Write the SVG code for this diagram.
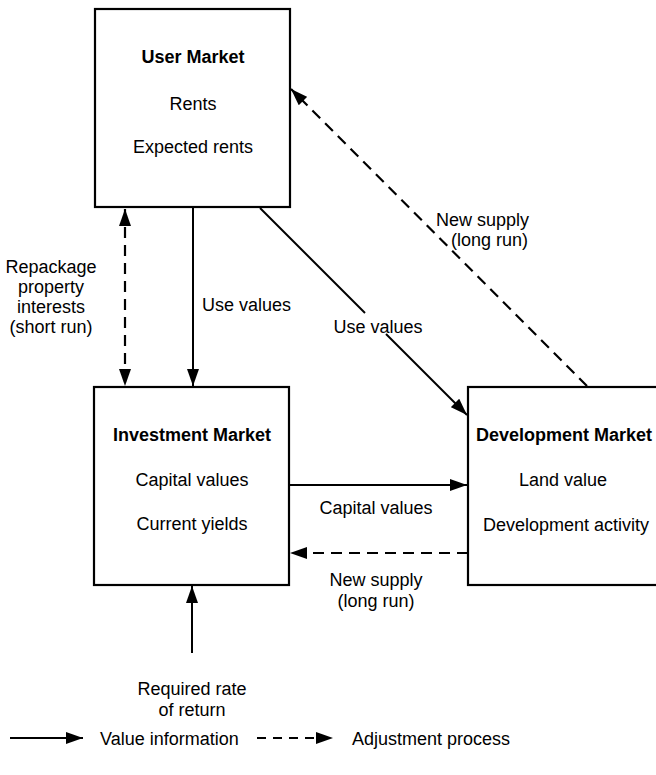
<svg xmlns="http://www.w3.org/2000/svg" width="656" height="775" viewBox="0 0 656 775">
  <style>
    .box { fill: #ffffff; stroke: #000000; stroke-width: 2.2; }
    .t { font-family: "Liberation Sans", Arial, sans-serif; font-size: 18px; fill: #000000; }
    .b { font-weight: bold; }
    .mid { text-anchor: middle; }
    .end { text-anchor: end; }
    .solid { stroke: #000000; stroke-width: 2; fill: none; }
    .dash { stroke: #000000; stroke-width: 2.2; fill: none; stroke-dasharray: 11 7; }
  </style>
  <defs>
    <marker id="head" markerUnits="userSpaceOnUse" markerWidth="18" markerHeight="12" refX="17" refY="6" orient="auto-start-reverse">
      <path d="M0,0 L17,6 L0,12 z" fill="#000000"/>
    </marker>
  </defs>
  <rect width="656" height="775" fill="#ffffff"/>

  <!-- User market -->
  <g id="user-market">
    <rect class="box" x="95" y="9" width="195" height="198"/>
    <text class="t b mid" x="193" y="63">User Market</text>
    <text class="t mid" x="193" y="110">Rents</text>
    <text class="t mid" x="193" y="153">Expected rents</text>
  </g>

  <!-- Investment market -->
  <g id="investment-market">
    <rect class="box" x="94" y="387" width="195" height="198"/>
    <text class="t b mid" x="192" y="441">Investment Market</text>
    <text class="t mid" x="192" y="486">Capital values</text>
    <text class="t mid" x="192" y="530">Current yields</text>
  </g>

  <!-- Development market (runs past the right edge) -->
  <g id="development-market">
    <rect class="box" x="468" y="387" width="220" height="198"/>
    <text class="t b" x="476" y="441">Development Market</text>
    <text class="t mid" x="563" y="486">Land value</text>
    <text class="t mid" x="566" y="531">Development activity</text>
  </g>

  <!-- Connectors -->
  <g id="connectors">
    <!-- user -> investment: use values -->
    <line class="solid" x1="193" y1="207" x2="193" y2="386" marker-end="url(#head)"/>
    <!-- repackage property interests, both ways -->
    <line class="dash" x1="125" y1="209" x2="125" y2="386" marker-start="url(#head)" marker-end="url(#head)"/>
    <!-- user -> development: use values (broken for label) -->
    <path class="solid" d="M260,208 L365,313"/>
    <path class="solid" d="M386,334 L467,415" marker-end="url(#head)"/>
    <!-- development -> user: new supply -->
    <line class="dash" x1="587" y1="386" x2="291" y2="89" marker-end="url(#head)"/>
    <!-- investment -> development: capital values -->
    <line class="solid" x1="289" y1="485" x2="467" y2="485" marker-end="url(#head)"/>
    <!-- development -> investment: new supply -->
    <line class="dash" x1="468" y1="553" x2="290" y2="553" marker-end="url(#head)"/>
    <!-- required rate of return -> investment -->
    <line class="solid" x1="192" y1="653" x2="192" y2="586" marker-end="url(#head)"/>
  </g>

  <!-- Connector labels -->
  <g id="labels">
    <text class="t mid" x="51" y="273">Repackage</text>
    <text class="t mid" x="51" y="293">property</text>
    <text class="t mid" x="51" y="313">interests</text>
    <text class="t mid" x="51" y="333">(short run)</text>
    <text class="t" x="202" y="311">Use values</text>
    <text class="t mid" x="378" y="333">Use values</text>
    <text class="t end" x="529" y="226">New supply</text>
    <text class="t end" x="528" y="246">(long run)</text>
    <text class="t mid" x="376" y="514">Capital values</text>
    <text class="t mid" x="376" y="586">New supply</text>
    <text class="t mid" x="376" y="607">(long run)</text>
    <text class="t mid" x="192" y="695">Required rate</text>
    <text class="t mid" x="192" y="716">of return</text>
  </g>

  <!-- Legend -->
  <g id="legend">
    <line class="solid" x1="10" y1="738" x2="83" y2="738" marker-end="url(#head)"/>
    <text class="t" x="100" y="745">Value information</text>
    <line class="dash" x1="257" y1="738" x2="333" y2="738" style="stroke-dasharray: 9 7" marker-end="url(#head)"/>
    <text class="t" x="352" y="745">Adjustment process</text>
  </g>
</svg>
